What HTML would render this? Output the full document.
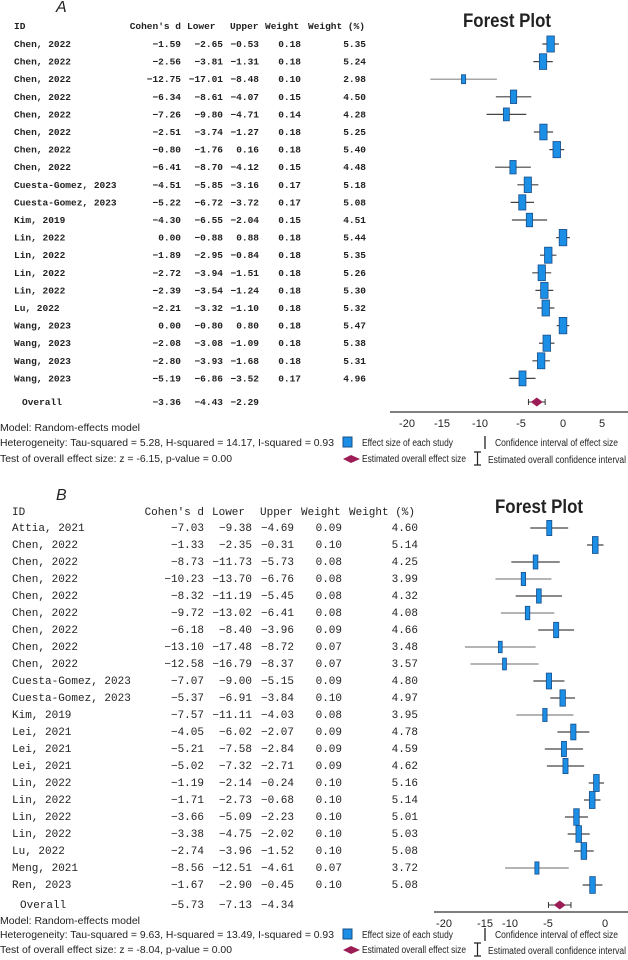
<!DOCTYPE html>
<html><head><meta charset="utf-8"><style>
html,body{margin:0;padding:0;background:#fff;width:628px;height:960px;overflow:hidden}
svg{display:block}
.m{font-family:"Liberation Mono",monospace;fill:#222}
.s{font-family:"Liberation Sans",sans-serif;fill:#222}
</style></head><body>
<svg id="c" width="628" height="960" xmlns="http://www.w3.org/2000/svg"></svg>
<script>
var S=document.getElementById('c'),out='';
function T(x,y,t,cls,sz,anch,extra){out+='<text x="'+x+'" y="'+y+'" class="'+cls+'" font-size="'+sz+'"'+(anch?' text-anchor="'+anch+'"':'')+(extra||'')+'>'+t+'</text>';}
function fmt(v){return (v<0?'\u2212':'')+Math.abs(v).toFixed(2);}
function panel(o){
  var A=o;
  T(A.lx,A.ly,A.lab,'s',16,null,' font-style="italic"');
  T(A.tx,A.ty,'Forest Plot','s',19,null,' font-weight="bold" textLength="88" lengthAdjust="spacingAndGlyphs"');
  var fw=A.bold?' font-weight="bold"':'';
  T(A.idx,A.hy,'ID','m',A.fs,null,fw);
  T(A.c[0],A.hy,"Cohen's d",'m',A.fs,'end',fw);
  T(A.h[0],A.hy,'Lower','m',A.fs,null,fw);
  T(A.h[1],A.hy,'Upper','m',A.fs,null,fw);
  T(A.h[2],A.hy,'Weight','m',A.fs,null,fw);
  T(A.h[3],A.hy,'Weight (%)','m',A.fs,null,fw);
  A.rows.forEach(function(r,i){
    var y=A.y0+i*A.dy;
    T(A.idx,y+3,r[0],'m',A.fs,null,fw);
    for(var k=0;k<3;k++)T(A.c[k],y+3,fmt(r[k+1]),'m',A.fs,'end',fw);
    T(A.c[3],y+3,r[4].toFixed(2),'m',A.fs,'end',fw);
    T(A.c[4],y+3,r[5].toFixed(2),'m',A.fs,'end',fw);
    var x=A.z+r[1]*A.k,x1=A.z+r[2]*A.k,x2=Math.min(A.z+r[3]*A.k,628);
    out+='<line x1="'+x1+'" x2="'+x2+'" y1="'+y+'" y2="'+y+'" stroke="'+(r[3]-r[2]>6?'#888':'#444')+'" stroke-width="1.2"/>';
    var h=r[5]*A.hk,w=Math.max(3,r[5]*A.wk);
    out+='<rect x="'+(x-w/2)+'" y="'+(y-h/2)+'" width="'+w+'" height="'+h+'" fill="#1b8ee6" stroke="#1a4f8a" stroke-width="0.8"/>';
  });
  var oy=A.oy,ov=A.ov;
  T(A.idx+8,oy+3,'Overall','m',A.fs,null,fw);
  for(var k=0;k<3;k++)T(A.c[k],oy+3,fmt(ov[k]),'m',A.fs,'end',fw);
  var dx=A.z+ov[0]*A.k,l=A.z+ov[1]*A.k,u=A.z+ov[2]*A.k;
  out+='<line x1="'+l+'" x2="'+u+'" y1="'+oy+'" y2="'+oy+'" stroke="#333"/><line x1="'+l+'" x2="'+l+'" y1="'+(oy-3)+'" y2="'+(oy+3)+'" stroke="#333"/><line x1="'+u+'" x2="'+u+'" y1="'+(oy-3)+'" y2="'+(oy+3)+'" stroke="#333"/>';
  out+='<polygon points="'+(dx-6)+','+oy+' '+dx+','+(oy-4.5)+' '+(dx+6)+','+oy+' '+dx+','+(oy+4.5)+'" fill="#9c1c56"/>';
  out+='<line x1="'+A.ax0+'" x2="628" y1="'+A.ay+'" y2="'+A.ay+'" stroke="#333" stroke-width="1.2"/>';
  A.ticks.forEach(function(t){T(t[1],A.ay+15,t[0]==0?'0':(t[0]<0?'-'+(-t[0]):t[0]),'s',11,'middle');});
  T(0,A.by[0],'Model: Random-effects model','s',10,null,' textLength="140" lengthAdjust="spacingAndGlyphs"');
  T(0,A.by[1],A.het,'s',10,null,' textLength="334" lengthAdjust="spacingAndGlyphs"');
  T(0,A.by[2],A.test,'s',10,null,' textLength="232" lengthAdjust="spacingAndGlyphs"');
  var y1=A.by[1],y2=A.by[2];
  out+='<rect x="343" y="'+(y1-9)+'" width="9" height="10" fill="#1b8ee6" stroke="#1a4f8a"/>';
  T(362,y1,'Effect size of each study','s',10,null,' textLength="91" lengthAdjust="spacingAndGlyphs"');
  out+='<line x1="485" x2="485" y1="'+(y1-10)+'" y2="'+(y1+3)+'" stroke="#222" stroke-width="1.3"/>';
  T(495,y1,'Confidence interval of effect size','s',10,null,' textLength="123" lengthAdjust="spacingAndGlyphs"');
  out+='<polygon points="343,'+(y2-3)+' 351,'+(y2-7)+' 360,'+(y2-3)+' 351,'+(y2+1)+'" fill="#9c1c56"/>';
  T(362,y2,'Estimated overall effect size','s',10,null,' textLength="104" lengthAdjust="spacingAndGlyphs"');
  out+='<path d="M474 '+(y2-10)+'h7M477.5 '+(y2-10)+'v13M474 '+(y2+3)+'h7" stroke="#222" stroke-width="1.2" fill="none"/>';
  T(488,y2+1,'Estimated overall confidence interval','s',10,null,' textLength="138" lengthAdjust="spacingAndGlyphs"');
}
panel({lab:'A',lx:56,ly:12,tx:463,ty:27,bold:true,fs:9.5,h:[187,230,265,308],idx:14,hy:29,c:[181,223,259,301,366],
 y0:44,dy:17.6,z:563,k:7.8,hk:3,wk:1.4,oy:402,ov:[-3.36,-4.43,-2.29],ax0:390,ay:412,
 ticks:[[-20,407],[-15,442],[-10,480],[-5,521],[0,563],[5,602]],by:[431,446,462],
 het:'Heterogeneity: Tau-squared = 5.28, H-squared = 14.17, I-squared = 0.93',test:'Test of overall effect size: z = -6.15, p-value = 0.00',
 rows:[['Chen, 2022',-1.59,-2.65,-0.53,0.18,5.35],['Chen, 2022',-2.56,-3.81,-1.31,0.18,5.24],['Chen, 2022',-12.75,-17.01,-8.48,0.10,2.98],['Chen, 2022',-6.34,-8.61,-4.07,0.15,4.50],['Chen, 2022',-7.26,-9.80,-4.71,0.14,4.28],['Chen, 2022',-2.51,-3.74,-1.27,0.18,5.25],['Chen, 2022',-0.80,-1.76,0.16,0.18,5.40],['Chen, 2022',-6.41,-8.70,-4.12,0.15,4.48],['Cuesta-Gomez, 2023',-4.51,-5.85,-3.16,0.17,5.18],['Cuesta-Gomez, 2023',-5.22,-6.72,-3.72,0.17,5.08],['Kim, 2019',-4.30,-6.55,-2.04,0.15,4.51],['Lin, 2022',0.00,-0.88,0.88,0.18,5.44],['Lin, 2022',-1.89,-2.95,-0.84,0.18,5.35],['Lin, 2022',-2.72,-3.94,-1.51,0.18,5.26],['Lin, 2022',-2.39,-3.54,-1.24,0.18,5.30],['Lu, 2022',-2.21,-3.32,-1.10,0.18,5.32],['Wang, 2023',0.00,-0.80,0.80,0.18,5.47],['Wang, 2023',-2.08,-3.08,-1.09,0.18,5.38],['Wang, 2023',-2.80,-3.93,-1.68,0.18,5.31],['Wang, 2023',-5.19,-6.86,-3.52,0.17,4.96]]});
panel({lab:'B',lx:56,ly:500,tx:495,ty:513,bold:false,fs:11,h:[212,260,301,349],idx:12,hy:515,c:[204,252,294,342,418],
 y0:528,dy:17,z:606,k:8.07,hk:3.3,wk:1.1,oy:905,ov:[-5.73,-7.13,-4.34],ax0:434,ay:912,
 ticks:[[-20,444],[-15,485],[-10,510],[-5,548],[0,605]],by:[924,938,953],
 het:'Heterogeneity: Tau-squared = 9.63, H-squared = 13.49, I-squared = 0.93',test:'Test of overall effect size: z = -8.04, p-value = 0.00',
 rows:[['Attia, 2021',-7.03,-9.38,-4.69,0.09,4.60],['Chen, 2022',-1.33,-2.35,-0.31,0.10,5.14],['Chen, 2022',-8.73,-11.73,-5.73,0.08,4.25],['Chen, 2022',-10.23,-13.70,-6.76,0.08,3.99],['Chen, 2022',-8.32,-11.19,-5.45,0.08,4.32],['Chen, 2022',-9.72,-13.02,-6.41,0.08,4.08],['Chen, 2022',-6.18,-8.40,-3.96,0.09,4.66],['Chen, 2022',-13.10,-17.48,-8.72,0.07,3.48],['Chen, 2022',-12.58,-16.79,-8.37,0.07,3.57],['Cuesta-Gomez, 2023',-7.07,-9.00,-5.15,0.09,4.80],['Cuesta-Gomez, 2023',-5.37,-6.91,-3.84,0.10,4.97],['Kim, 2019',-7.57,-11.11,-4.03,0.08,3.95],['Lei, 2021',-4.05,-6.02,-2.07,0.09,4.78],['Lei, 2021',-5.21,-7.58,-2.84,0.09,4.59],['Lei, 2021',-5.02,-7.32,-2.71,0.09,4.62],['Lin, 2022',-1.19,-2.14,-0.24,0.10,5.16],['Lin, 2022',-1.71,-2.73,-0.68,0.10,5.14],['Lin, 2022',-3.66,-5.09,-2.23,0.10,5.01],['Lin, 2022',-3.38,-4.75,-2.02,0.10,5.03],['Lu, 2022',-2.74,-3.96,-1.52,0.10,5.08],['Meng, 2021',-8.56,-12.51,-4.61,0.07,3.72],['Ren, 2023',-1.67,-2.90,-0.45,0.10,5.08]]});
S.innerHTML=out;
</script>
</body></html>
